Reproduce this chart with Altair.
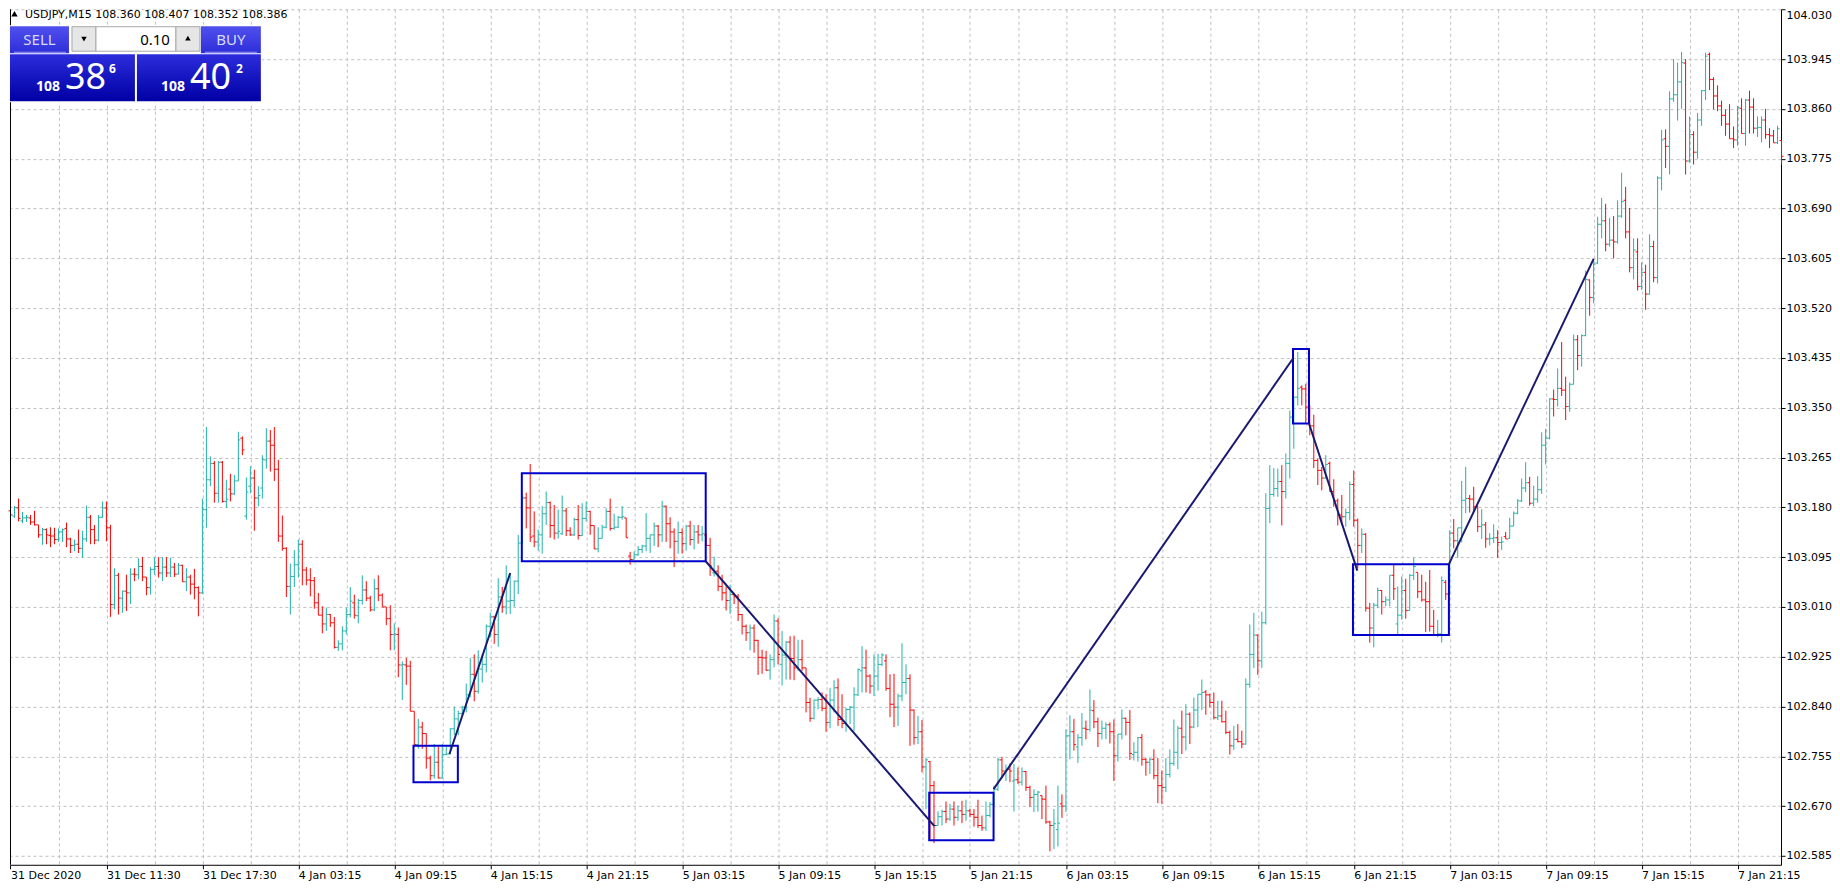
import json
import altair as alt
import pandas as pd

# ---------------- data (15-minute OHLC bars, one row of 12 bars per line) ----------------
OPEN = [
    103.174, 103.165, 103.179, 103.157, 103.162, 103.162, 103.155, 103.150, 103.133, 103.142, 103.132, 103.131,
    103.125, 103.138, 103.144, 103.126, 103.115, 103.117, 103.110, 103.126, 103.163, 103.142, 103.124, 103.163,
    103.179, 103.145, 103.014, 103.064, 103.025, 103.037, 103.034, 103.066, 103.065, 103.079, 103.061, 103.043,
    103.074, 103.079, 103.068, 103.078, 103.068, 103.078, 103.066, 103.081, 103.053, 103.061, 103.049, 103.043,
    103.034, 103.176, 103.227, 103.255, 103.204, 103.257, 103.190, 103.211, 103.203, 103.225, 103.298, 103.165,
    103.216, 103.230, 103.196, 103.213, 103.261, 103.293, 103.286, 103.245, 103.131, 103.110, 103.045, 103.062,
    103.082, 103.117, 103.073, 103.056, 103.055, 103.017, 102.996, 102.981, 102.997, 102.983, 102.941, 102.947,
    102.969, 102.997, 103.017, 102.995, 103.021, 103.039, 103.025, 103.005, 103.041, 103.030, 103.010, 102.990,
    102.963, 102.963, 102.911, 102.911, 102.909, 102.832, 102.775, 102.805, 102.794, 102.752, 102.722, 102.745,
    102.718, 102.758, 102.759, 102.802, 102.819, 102.828, 102.839, 102.860, 102.895, 102.866, 102.904, 102.912,
    102.977, 102.993, 102.963, 103.027, 103.010, 103.020, 103.021, 103.054, 103.119, 103.196, 103.179, 103.131,
    103.121, 103.133, 103.169, 103.188, 103.149, 103.136, 103.135, 103.174, 103.140, 103.133, 103.159, 103.132,
    103.161, 103.173, 103.149, 103.109, 103.127, 103.146, 103.173, 103.144, 103.146, 103.163, 103.162, 103.097,
    103.091, 103.099, 103.108, 103.114, 103.127, 103.133, 103.148, 103.133, 103.182, 103.152, 103.138, 103.122,
    103.137, 103.118, 103.148, 103.125, 103.138, 103.133, 103.133, 103.115, 103.068, 103.071, 103.045, 103.034,
    103.021, 103.031, 103.028, 102.997, 102.977, 102.966, 102.974, 102.953, 102.924, 102.923, 102.902, 102.920,
    102.986, 102.912, 102.928, 102.950, 102.922, 102.906, 102.920, 102.906, 102.847, 102.820, 102.851, 102.852,
    102.837, 102.813, 102.851, 102.872, 102.818, 102.811, 102.835, 102.839, 102.860, 102.901, 102.906, 102.892,
    102.875, 102.892, 102.912, 102.918, 102.871, 102.844, 102.839, 102.858, 102.881, 102.888, 102.834, 102.787,
    102.797, 102.737, 102.746, 102.705, 102.637, 102.652, 102.661, 102.648, 102.665, 102.651, 102.662, 102.656,
    102.662, 102.656, 102.651, 102.637, 102.633, 102.654, 102.673, 102.699, 102.749, 102.730, 102.733, 102.713,
    102.715, 102.711, 102.729, 102.702, 102.685, 102.690, 102.688, 102.682, 102.643, 102.637, 102.630, 102.674,
    102.670, 102.790, 102.797, 102.771, 102.787, 102.803, 102.801, 102.833, 102.814, 102.794, 102.803, 102.809,
    102.797, 102.756, 102.793, 102.820, 102.813, 102.758, 102.762, 102.787, 102.750, 102.745, 102.750, 102.722,
    102.705, 102.702, 102.724, 102.743, 102.762, 102.803, 102.788, 102.827, 102.805, 102.834, 102.861, 102.865,
    102.860, 102.847, 102.821, 102.824, 102.814, 102.796, 102.773, 102.784, 102.780, 102.776, 102.878, 102.929,
    102.962, 102.918, 102.983, 103.178, 103.202, 103.212, 103.224, 103.207, 103.255, 103.334, 103.368, 103.385,
    103.382, 103.351, 103.319, 103.260, 103.243, 103.230, 103.255, 103.207, 103.191, 103.167, 103.164, 103.171,
    103.219, 103.158, 103.115, 103.134, 103.008, 102.974, 103.013, 103.038, 103.019, 103.022, 103.064, 102.981,
    102.996, 103.038, 103.004, 103.064, 103.069, 103.036, 103.022, 103.019, 102.977, 102.963, 102.964, 103.052,
    103.032, 103.136, 103.123, 103.145, 103.192, 103.195, 103.194, 103.181, 103.147, 103.150, 103.126, 103.127,
    103.128, 103.120, 103.130, 103.127, 103.148, 103.170, 103.191, 103.213, 103.222, 103.187, 103.194, 103.210,
    103.286, 103.298, 103.365, 103.364, 103.383, 103.380, 103.352, 103.390, 103.466, 103.439, 103.473, 103.568,
    103.538, 103.597, 103.663, 103.669, 103.629, 103.636, 103.633, 103.677, 103.704, 103.650, 103.589, 103.616,
    103.557, 103.581, 103.544, 103.625, 103.572, 103.742, 103.809, 103.796, 103.877, 103.884, 103.906, 103.938,
    103.771, 103.816, 103.786, 103.841, 103.891, 103.953, 103.910, 103.882, 103.865, 103.849, 103.834, 103.809,
    103.807, 103.861, 103.818, 103.875, 103.863, 103.827, 103.828, 103.841, 103.816, 103.814, 103.802, 103.806,
]

HIGH = [
    103.176, 103.182, 103.195, 103.172, 103.167, 103.167, 103.174, 103.150, 103.145, 103.144, 103.146, 103.145,
    103.144, 103.144, 103.154, 103.128, 103.125, 103.142, 103.140, 103.183, 103.167, 103.150, 103.167, 103.190,
    103.190, 103.150, 103.076, 103.068, 103.038, 103.065, 103.076, 103.076, 103.093, 103.095, 103.061, 103.078,
    103.095, 103.095, 103.095, 103.095, 103.094, 103.085, 103.085, 103.082, 103.076, 103.065, 103.075, 103.045,
    103.195, 103.317, 103.267, 103.259, 103.259, 103.259, 103.227, 103.237, 103.235, 103.309, 103.301, 103.231,
    103.250, 103.244, 103.216, 103.269, 103.315, 103.312, 103.317, 103.261, 103.166, 103.112, 103.084, 103.107,
    103.125, 103.124, 103.078, 103.076, 103.061, 103.034, 103.011, 103.009, 102.998, 102.993, 102.953, 102.977,
    103.009, 103.044, 103.031, 103.024, 103.064, 103.054, 103.029, 103.058, 103.064, 103.033, 103.010, 103.013,
    102.982, 102.975, 102.917, 102.923, 102.918, 102.832, 102.819, 102.814, 102.794, 102.756, 102.776, 102.771,
    102.776, 102.771, 102.803, 102.840, 102.833, 102.841, 102.879, 102.923, 102.929, 102.936, 102.929, 102.980,
    103.000, 102.995, 103.059, 103.044, 103.081, 103.067, 103.055, 103.133, 103.201, 103.205, 103.254, 103.173,
    103.142, 103.182, 103.207, 103.190, 103.184, 103.176, 103.200, 103.179, 103.146, 103.162, 103.184, 103.187,
    103.190, 103.174, 103.149, 103.146, 103.150, 103.178, 103.195, 103.169, 103.165, 103.182, 103.162, 103.104,
    103.105, 103.114, 103.116, 103.170, 103.133, 103.154, 103.150, 103.191, 103.183, 103.163, 103.144, 103.156,
    103.144, 103.150, 103.157, 103.150, 103.150, 103.148, 103.136, 103.128, 103.096, 103.081, 103.065, 103.045,
    103.048, 103.034, 103.032, 102.998, 102.980, 102.980, 102.980, 102.954, 102.937, 102.935, 102.929, 102.997,
    102.991, 102.969, 102.952, 102.960, 102.961, 102.954, 102.954, 102.906, 102.855, 102.852, 102.856, 102.864,
    102.861, 102.872, 102.885, 102.888, 102.861, 102.838, 102.841, 102.873, 102.905, 102.943, 102.937, 102.895,
    102.929, 102.930, 102.931, 102.929, 102.895, 102.896, 102.862, 102.948, 102.912, 102.895, 102.835, 102.824,
    102.817, 102.753, 102.747, 102.713, 102.661, 102.664, 102.678, 102.674, 102.678, 102.671, 102.679, 102.681,
    102.665, 102.665, 102.681, 102.654, 102.678, 102.677, 102.705, 102.753, 102.754, 102.741, 102.743, 102.742,
    102.736, 102.736, 102.730, 102.705, 102.699, 102.696, 102.688, 102.705, 102.645, 102.665, 102.705, 102.690,
    102.801, 102.825, 102.819, 102.793, 102.829, 102.816, 102.869, 102.851, 102.821, 102.816, 102.813, 102.813,
    102.818, 102.793, 102.835, 102.821, 102.834, 102.779, 102.788, 102.793, 102.752, 102.752, 102.767, 102.752,
    102.731, 102.752, 102.767, 102.818, 102.807, 102.833, 102.844, 102.830, 102.855, 102.861, 102.886, 102.868,
    102.862, 102.864, 102.850, 102.850, 102.833, 102.799, 102.807, 102.810, 102.799, 102.888, 102.980, 103.000,
    102.963, 103.002, 103.204, 103.252, 103.247, 103.246, 103.252, 103.272, 103.345, 103.368, 103.445, 103.388,
    103.391, 103.354, 103.338, 103.263, 103.249, 103.269, 103.258, 103.228, 103.195, 103.201, 103.178, 103.224,
    103.243, 103.161, 103.144, 103.136, 103.017, 103.017, 103.043, 103.039, 103.028, 103.064, 103.083, 103.045,
    103.062, 103.058, 103.066, 103.094, 103.069, 103.065, 103.053, 103.073, 103.005, 102.988, 103.062, 103.056,
    103.141, 103.160, 103.145, 103.225, 103.249, 103.201, 103.215, 103.183, 103.177, 103.155, 103.136, 103.151,
    103.141, 103.130, 103.138, 103.162, 103.173, 103.194, 103.229, 103.257, 103.232, 103.217, 103.233, 103.308,
    103.314, 103.366, 103.381, 103.417, 103.462, 103.403, 103.393, 103.475, 103.474, 103.475, 103.584, 103.569,
    103.604, 103.676, 103.708, 103.698, 103.674, 103.677, 103.704, 103.751, 103.727, 103.691, 103.639, 103.639,
    103.598, 103.594, 103.646, 103.635, 103.745, 103.824, 103.825, 103.890, 103.945, 103.939, 103.957, 103.945,
    103.847, 103.822, 103.853, 103.892, 103.956, 103.956, 103.914, 103.900, 103.874, 103.859, 103.868, 103.830,
    103.865, 103.878, 103.877, 103.891, 103.878, 103.847, 103.847, 103.860, 103.827, 103.824, 103.831, 103.806,
]

LOW = [
    103.147, 103.162, 103.156, 103.153, 103.155, 103.150, 103.149, 103.128, 103.116, 103.117, 103.112, 103.117,
    103.121, 103.121, 103.112, 103.102, 103.105, 103.102, 103.094, 103.121, 103.117, 103.117, 103.122, 103.162,
    103.122, 102.993, 103.006, 102.997, 103.000, 103.003, 103.015, 103.054, 103.057, 103.054, 103.030, 103.031,
    103.065, 103.060, 103.054, 103.061, 103.061, 103.061, 103.065, 103.053, 103.037, 103.031, 103.023, 102.994,
    103.032, 103.145, 103.216, 103.188, 103.188, 103.188, 103.179, 103.190, 103.201, 103.225, 103.269, 103.159,
    103.204, 103.140, 103.182, 103.195, 103.246, 103.241, 103.225, 103.121, 103.106, 103.027, 102.997, 103.044,
    103.060, 103.047, 103.047, 103.028, 103.007, 102.996, 102.965, 102.969, 102.976, 102.939, 102.935, 102.936,
    102.963, 102.992, 102.990, 102.982, 103.014, 103.020, 103.002, 103.003, 103.020, 103.010, 102.979, 102.936,
    102.936, 102.890, 102.851, 102.877, 102.832, 102.771, 102.768, 102.768, 102.734, 102.714, 102.717, 102.717,
    102.717, 102.757, 102.759, 102.791, 102.791, 102.822, 102.830, 102.856, 102.849, 102.862, 102.881, 102.898,
    102.958, 102.947, 102.942, 103.000, 102.997, 102.998, 103.010, 103.032, 103.116, 103.144, 103.121, 103.112,
    103.106, 103.101, 103.150, 103.128, 103.125, 103.127, 103.133, 103.131, 103.131, 103.131, 103.125, 103.131,
    103.156, 103.133, 103.109, 103.103, 103.127, 103.144, 103.140, 103.142, 103.145, 103.159, 103.128, 103.082,
    103.091, 103.097, 103.102, 103.105, 103.102, 103.114, 103.112, 103.121, 103.121, 103.110, 103.078, 103.101,
    103.101, 103.106, 103.115, 103.108, 103.118, 103.122, 103.114, 103.063, 103.062, 103.037, 103.021, 103.004,
    102.998, 103.015, 102.986, 102.963, 102.952, 102.936, 102.932, 102.894, 102.896, 102.901, 102.886, 102.907,
    102.912, 102.876, 102.886, 102.886, 102.885, 102.901, 102.901, 102.830, 102.814, 102.818, 102.835, 102.832,
    102.797, 102.803, 102.830, 102.807, 102.803, 102.797, 102.810, 102.798, 102.858, 102.864, 102.864, 102.862,
    102.858, 102.867, 102.909, 102.867, 102.822, 102.805, 102.807, 102.849, 102.861, 102.773, 102.775, 102.776,
    102.728, 102.665, 102.614, 102.607, 102.637, 102.637, 102.641, 102.645, 102.637, 102.645, 102.641, 102.645,
    102.651, 102.635, 102.633, 102.628, 102.628, 102.651, 102.671, 102.696, 102.719, 102.713, 102.711, 102.661,
    102.708, 102.705, 102.696, 102.669, 102.660, 102.661, 102.648, 102.640, 102.593, 102.597, 102.601, 102.650,
    102.660, 102.750, 102.765, 102.744, 102.773, 102.784, 102.797, 102.803, 102.771, 102.784, 102.784, 102.777,
    102.713, 102.746, 102.784, 102.791, 102.749, 102.748, 102.746, 102.739, 102.722, 102.725, 102.716, 102.675,
    102.674, 102.694, 102.719, 102.739, 102.733, 102.759, 102.765, 102.776, 102.803, 102.805, 102.834, 102.826,
    102.839, 102.818, 102.817, 102.813, 102.793, 102.758, 102.766, 102.779, 102.769, 102.775, 102.872, 102.906,
    102.894, 102.906, 102.980, 103.153, 103.198, 103.198, 103.149, 103.195, 103.229, 103.280, 103.354, 103.354,
    103.324, 103.303, 103.247, 103.218, 103.209, 103.229, 103.207, 103.181, 103.149, 103.150, 103.147, 103.158,
    103.147, 103.076, 103.102, 103.002, 102.949, 102.941, 103.008, 102.997, 103.011, 103.011, 103.022, 102.963,
    102.988, 102.990, 103.004, 103.056, 103.025, 103.019, 102.967, 102.968, 102.963, 102.958, 102.949, 103.022,
    103.031, 103.110, 103.094, 103.120, 103.170, 103.171, 103.172, 103.138, 103.126, 103.111, 103.115, 103.119,
    103.094, 103.107, 103.126, 103.127, 103.148, 103.168, 103.189, 103.206, 103.183, 103.182, 103.188, 103.203,
    103.253, 103.296, 103.335, 103.352, 103.370, 103.329, 103.343, 103.390, 103.414, 103.420, 103.472, 103.507,
    103.528, 103.595, 103.639, 103.617, 103.625, 103.605, 103.630, 103.674, 103.639, 103.581, 103.569, 103.550,
    103.551, 103.517, 103.543, 103.564, 103.562, 103.721, 103.759, 103.748, 103.872, 103.840, 103.860, 103.748,
    103.768, 103.765, 103.775, 103.831, 103.875, 103.892, 103.859, 103.856, 103.831, 103.814, 103.809, 103.793,
    103.797, 103.818, 103.797, 103.818, 103.818, 103.812, 103.803, 103.809, 103.793, 103.802, 103.800, 103.765,
]

CLOSE = [
    103.167, 103.180, 103.161, 103.162, 103.163, 103.155, 103.150, 103.133, 103.142, 103.133, 103.131, 103.125,
    103.138, 103.142, 103.126, 103.115, 103.117, 103.110, 103.126, 103.163, 103.142, 103.124, 103.163, 103.179,
    103.145, 103.014, 103.064, 103.025, 103.037, 103.034, 103.066, 103.065, 103.079, 103.061, 103.043, 103.074,
    103.079, 103.068, 103.078, 103.068, 103.078, 103.066, 103.081, 103.053, 103.061, 103.049, 103.043, 103.034,
    103.176, 103.227, 103.255, 103.204, 103.257, 103.190, 103.194, 103.203, 103.225, 103.295, 103.278, 103.206,
    103.230, 103.196, 103.200, 103.261, 103.293, 103.286, 103.245, 103.131, 103.110, 103.045, 103.062, 103.082,
    103.117, 103.073, 103.056, 103.055, 103.017, 102.996, 102.981, 102.997, 102.983, 102.941, 102.947, 102.969,
    102.997, 103.020, 102.996, 103.021, 103.039, 103.025, 103.005, 103.041, 103.030, 103.010, 102.990, 102.963,
    102.964, 102.911, 102.912, 102.909, 102.832, 102.775, 102.805, 102.794, 102.752, 102.722, 102.745, 102.718,
    102.758, 102.759, 102.802, 102.819, 102.828, 102.839, 102.860, 102.895, 102.866, 102.904, 102.912, 102.977,
    102.993, 102.963, 103.027, 103.010, 103.020, 103.021, 103.054, 103.119, 103.196, 103.179, 103.129, 103.121,
    103.133, 103.169, 103.188, 103.149, 103.136, 103.139, 103.174, 103.140, 103.133, 103.159, 103.132, 103.161,
    103.173, 103.149, 103.109, 103.127, 103.146, 103.173, 103.144, 103.146, 103.163, 103.164, 103.128, 103.091,
    103.099, 103.108, 103.114, 103.127, 103.133, 103.148, 103.133, 103.182, 103.152, 103.138, 103.122, 103.137,
    103.118, 103.148, 103.125, 103.138, 103.133, 103.135, 103.115, 103.080, 103.071, 103.045, 103.034, 103.021,
    103.031, 103.028, 102.997, 102.977, 102.966, 102.974, 102.953, 102.924, 102.923, 102.902, 102.920, 102.986,
    102.929, 102.928, 102.950, 102.922, 102.906, 102.920, 102.906, 102.847, 102.820, 102.851, 102.852, 102.837,
    102.813, 102.851, 102.872, 102.818, 102.811, 102.835, 102.839, 102.860, 102.903, 102.906, 102.892, 102.875,
    102.892, 102.912, 102.928, 102.871, 102.844, 102.839, 102.858, 102.881, 102.888, 102.834, 102.787, 102.797,
    102.737, 102.749, 102.705, 102.637, 102.652, 102.661, 102.648, 102.665, 102.651, 102.662, 102.656, 102.662,
    102.656, 102.651, 102.637, 102.633, 102.654, 102.673, 102.699, 102.749, 102.730, 102.733, 102.730, 102.715,
    102.711, 102.729, 102.702, 102.685, 102.690, 102.694, 102.682, 102.643, 102.637, 102.640, 102.641, 102.670,
    102.790, 102.797, 102.775, 102.787, 102.803, 102.801, 102.834, 102.814, 102.794, 102.803, 102.809, 102.797,
    102.756, 102.793, 102.820, 102.813, 102.760, 102.762, 102.787, 102.750, 102.745, 102.750, 102.722, 102.705,
    102.702, 102.724, 102.743, 102.762, 102.803, 102.788, 102.827, 102.805, 102.834, 102.861, 102.864, 102.860,
    102.847, 102.821, 102.824, 102.814, 102.796, 102.773, 102.784, 102.780, 102.776, 102.878, 102.929, 102.962,
    102.918, 102.983, 103.178, 103.202, 103.212, 103.224, 103.207, 103.255, 103.334, 103.368, 103.383, 103.382,
    103.351, 103.319, 103.260, 103.243, 103.230, 103.253, 103.207, 103.191, 103.167, 103.164, 103.171, 103.219,
    103.158, 103.115, 103.134, 103.008, 102.974, 103.013, 103.038, 103.019, 103.022, 103.064, 103.041, 102.996,
    103.038, 103.004, 103.064, 103.079, 103.036, 103.022, 103.019, 102.977, 102.963, 102.964, 103.055, 103.032,
    103.136, 103.123, 103.145, 103.192, 103.195, 103.194, 103.181, 103.147, 103.150, 103.126, 103.127, 103.128,
    103.120, 103.121, 103.126, 103.148, 103.170, 103.191, 103.213, 103.222, 103.187, 103.194, 103.210, 103.286,
    103.298, 103.365, 103.364, 103.383, 103.380, 103.352, 103.390, 103.466, 103.439, 103.473, 103.569, 103.538,
    103.595, 103.663, 103.669, 103.629, 103.636, 103.633, 103.677, 103.702, 103.650, 103.589, 103.619, 103.557,
    103.581, 103.544, 103.625, 103.572, 103.742, 103.807, 103.796, 103.877, 103.884, 103.906, 103.939, 103.771,
    103.816, 103.786, 103.841, 103.891, 103.950, 103.910, 103.882, 103.865, 103.849, 103.834, 103.809, 103.807,
    103.862, 103.818, 103.875, 103.863, 103.827, 103.828, 103.841, 103.816, 103.814, 103.802, 103.826, 103.779,
]

TIME_LABELS = [
    "31 Dec 2020", "31 Dec 11:30", "31 Dec 17:30", "4 Jan 03:15", "4 Jan 09:15",
    "4 Jan 15:15", "4 Jan 21:15", "5 Jan 03:15", "5 Jan 09:15", "5 Jan 15:15",
    "5 Jan 21:15", "6 Jan 03:15", "6 Jan 09:15", "6 Jan 15:15", "6 Jan 21:15",
    "7 Jan 03:15", "7 Jan 09:15", "7 Jan 15:15", "7 Jan 21:15",
]
BARS_PER_LABEL = 24
BARS_PER_GRID = 12

PRICE_TICKS = [102.585, 102.670, 102.755, 102.840, 102.925, 103.010, 103.095, 103.180, 103.265,
               103.350, 103.435, 103.520, 103.605, 103.690, 103.775, 103.860, 103.945, 104.030]

# drawn objects (bar index / price)
BOX_X1 = [100.8, 127.9, 229.8, 320.8, 335.8]
BOX_X2 = [111.9, 173.9, 245.9, 324.8, 359.8]
BOX_TOP = [102.773, 103.238, 102.693, 103.450, 103.083]
BOX_BOTTOM = [102.711, 103.088, 102.612, 103.323, 102.962]

LINE_X1 = [109.8, 173.9, 245.9, 324.8, 359.8]
LINE_X2 = [125.0, 231.1, 320.8, 336.9, 396.0]
LINE_Y1 = [102.759, 103.088, 102.699, 103.323, 103.083]
LINE_Y2 = [103.068, 102.636, 103.434, 103.072, 103.604]

HEADER_SYMBOL = "USDJPY,M15"
HEADER_OHLC = ["108.360", "108.407", "108.352", "108.386"]
LOT = "0.10"
SELL_PARTS = ["108", "38", "6"]
BUY_PARTS = ["108", "40", "2"]

# ---------------- styling ----------------
W, H = 1772, 856
UP, DOWN = "#20B2AA", "#FF0000"
BOX_COLOR, LINE_COLOR = "#0000CD", "#191970"
GRID = "#C0C0C0"
FONT = "DejaVu Sans"

n = len(OPEN)
df = pd.DataFrame({"idx": list(range(n)), "open": OPEN, "high": HIGH, "low": LOW, "close": CLOSE})
boxes = pd.DataFrame({"x1": BOX_X1, "x2": BOX_X2, "top": BOX_TOP, "bottom": BOX_BOTTOM})
lines = pd.DataFrame({"x1": LINE_X1, "x2": LINE_X2, "y1": LINE_Y1, "y2": LINE_Y2})
one = pd.DataFrame({"k": [0]})

xscale = alt.Scale(domain=[-0.125, 442.875], nice=False, zero=False)
yscale = alt.Scale(domain=[102.570, 104.030], nice=False, zero=False)

label_js = json.dumps(TIME_LABELS)
xaxis = alt.Axis(
    values=list(range(0, n, BARS_PER_GRID)),
    labelExpr=f"datum.value % {BARS_PER_LABEL} === 0 ? {label_js}[round(datum.value / {BARS_PER_LABEL})] : ''",
    grid=True, gridColor=GRID, gridDash=[3, 3], gridWidth=1,
    tickColor={"condition": {"test": f"datum.value % {BARS_PER_LABEL} === 0", "value": "black"}, "value": "transparent"},
    tickSize=4, domainColor="black", domainWidth=1,
    labelAlign="left", labelBaseline="top", labelPadding=1, labelFont=FONT, labelFontSize=11,
    labelColor="black", labelOverlap=False, labelFlush=False, title=None,
)
yaxis = alt.Axis(
    orient="right", values=PRICE_TICKS, format=".3f",
    grid=True, gridColor=GRID, gridDash=[3, 3], gridWidth=1,
    tickColor="black", tickSize=4, domainColor="black", domainWidth=1,
    labelPadding=1, labelFont=FONT, labelFontSize=11, labelColor="black",
    labelOverlap=False, labelFlush=True, title=None,
)

color = alt.Color("dir:N", scale=alt.Scale(domain=["up", "down"], range=[UP, DOWN]), legend=None)

base = alt.Chart(df).transform_calculate(
    dir="datum.close >= datum.open ? 'up' : 'down'",
    xo="datum.idx - 0.5",
    xc="datum.idx + 0.5",
)

hl = base.mark_rule(strokeWidth=1).encode(
    x=alt.X("idx:Q", scale=xscale, axis=xaxis),
    y=alt.Y("low:Q", scale=yscale, axis=yaxis),
    y2="high:Q",
    color=color,
)
op = base.mark_rule(strokeWidth=1).encode(
    x=alt.X("xo:Q", scale=xscale, axis=xaxis), x2="idx:Q",
    y=alt.Y("open:Q", scale=yscale, axis=yaxis), color=color,
)
cl = base.mark_rule(strokeWidth=1).encode(
    x=alt.X("idx:Q", scale=xscale, axis=xaxis), x2="xc:Q",
    y=alt.Y("close:Q", scale=yscale, axis=yaxis), color=color,
)

box_layer = alt.Chart(boxes).mark_rect(fill="white", fillOpacity=0, stroke=BOX_COLOR, strokeWidth=2).encode(
    x=alt.X("x1:Q", scale=xscale, axis=xaxis), x2="x2:Q",
    y=alt.Y("top:Q", scale=yscale, axis=yaxis), y2="bottom:Q",
)
line_layer = alt.Chart(lines).mark_rule(color=LINE_COLOR, strokeWidth=2).encode(
    x=alt.X("x1:Q", scale=xscale, axis=xaxis), x2="x2:Q",
    y=alt.Y("y1:Q", scale=yscale, axis=yaxis), y2="y2:Q",
)

left_frame = alt.Chart(one).mark_rule(color="black", strokeWidth=1).encode(
    x=alt.value(0.5), y=alt.value(0), y2=alt.value(H)
)


def rect(x1, x2, y1, y2, **kw):
    return alt.Chart(one).mark_rect(**kw).encode(
        x=alt.value(x1), x2=alt.value(x2), y=alt.value(y1), y2=alt.value(y2)
    )


def label(s, x, y, **kw):
    return alt.Chart(one).mark_text(text=s, **kw).encode(x=alt.value(x), y=alt.value(y))


def tri(shape, x, y, size):
    return alt.Chart(one).mark_point(shape=shape, filled=True, color="black", size=size, opacity=1).encode(
        x=alt.value(x), y=alt.value(y)
    )


btn_grad = {"gradient": "linear", "x1": 0, "y1": 0, "x2": 0, "y2": 1,
            "stops": [{"offset": 0, "color": "#5050EE"}, {"offset": 1, "color": "#2E2ED8"}]}
price_grad = {"gradient": "linear", "x1": 0, "y1": 0, "x2": 0, "y2": 1,
              "stops": [{"offset": 0, "color": "#2C2CDC"}, {"offset": 1, "color": "#0000A4"}]}

PF = "Noto Sans"
panel = [
    rect(0, 252, 16, 93, fill="white"),
    rect(0, 59, 17, 44, fill=btn_grad),
    rect(4, 56, 42.5, 43.5, fill="#9C9CF4"),
    rect(191, 251, 17, 44, fill=btn_grad),
    rect(195, 247, 42.5, 43.5, fill="#9C9CF4"),
    rect(62, 86, 17.5, 42, fill="#E6E6E6", stroke="#A8A8A8", strokeWidth=1),
    rect(86, 166, 17.5, 42, fill="white", stroke="#A8A8A8", strokeWidth=1),
    rect(166, 190, 17.5, 42, fill="#E6E6E6", stroke="#A8A8A8", strokeWidth=1),
    rect(0, 125, 45, 92, fill=price_grad),
    rect(127, 251, 45, 92, fill=price_grad),
    tri("triangle-down", 74, 30, 30),
    tri("triangle-up", 178, 29, 30),
    label("SELL", 29.5, 36, font=PF, fontSize=15, color="#D6DCFF", align="center", baseline="alphabetic"),
    label("BUY", 221, 36, font=PF, fontSize=15, color="#D6DCFF", align="center", baseline="alphabetic"),
    label(LOT, 160, 36, font=PF, fontSize=15, color="black", align="right", baseline="alphabetic"),
    label(SELL_PARTS[0], 26, 82, font=PF, fontSize=14, fontWeight="bold", color="white", align="left", baseline="alphabetic"),
    label(SELL_PARTS[1], 55, 80, font=PF, fontSize=36, color="white", align="left", baseline="alphabetic"),
    label(SELL_PARTS[2], 99, 64, font=PF, fontSize=12, fontWeight="bold", color="white", align="left", baseline="alphabetic"),
    label(BUY_PARTS[0], 151, 82, font=PF, fontSize=14, fontWeight="bold", color="white", align="left", baseline="alphabetic"),
    label(BUY_PARTS[1], 180, 80, font=PF, fontSize=36, color="white", align="left", baseline="alphabetic"),
    label(BUY_PARTS[2], 226, 64, font=PF, fontSize=12, fontWeight="bold", color="white", align="left", baseline="alphabetic"),
    tri("triangle-up", 4.5, 4.5, 40),
    label(HEADER_SYMBOL + "  " + " ".join(HEADER_OHLC), 15, 9, font=FONT, fontSize=11, color="black",
          align="left", baseline="alphabetic"),
]

chart = alt.layer(hl, op, cl, box_layer, line_layer, left_frame, *panel).properties(
    width=W, height=H, padding={"left": 0, "top": 0, "right": 0, "bottom": 0}
).configure_view(strokeWidth=0)

chart.save("out.html", embed_options={"renderer": "svg", "actions": False})
